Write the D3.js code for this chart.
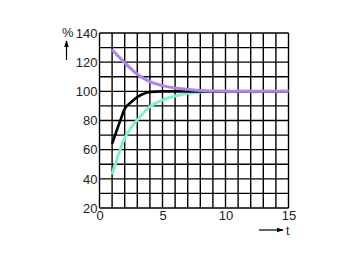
<!DOCTYPE html>
<html>
<head>
<meta charset="utf-8">
<script src="https://cdn.jsdelivr.net/npm/d3@7"></script>
<style>
  body { margin: 0; background: #fff; }
  text { font-family: "Liberation Sans", Arial, sans-serif; }
</style>
</head>
<body>
<div id="chart"></div>
<script>
var w = 360;
var h = 262;

// data
var xTicks = [0, 5, 10, 15];
var yTicks = [20, 40, 60, 80, 100, 120, 140];
var purpleT = [1, 2, 3, 4, 5, 6, 7, 8, 10, 12, 15];
var purpleV = [128.5, 119.6, 111.7, 106.6, 103.9, 102.3, 101.4, 100.6, 100.1, 100, 100];
var blackT = [1, 1.65, 2, 2.5, 3, 3.5, 4, 5, 8, 15];
var blackV = [64, 80, 88, 92.5, 96, 98.3, 99.5, 100, 100, 100];
var cyanT = [1, 1.4, 2, 2.5, 3, 4, 5, 6, 7, 8, 9, 15];
var cyanV = [43, 54, 68, 75, 80.3, 89.5, 94, 96.8, 98.6, 99.5, 100, 100];

var svg = d3.select("#chart").append("svg").attr("width", w).attr("height", h);

var x = d3.scaleLinear().domain([0, 15]).range([99.5, 288.5]);
var y = d3.scaleLinear().domain([20, 140]).range([208, 33]);

// grid
svg.selectAll("line.v").data(d3.range(0, 16)).enter().append("line")
    .attr("x1", function(d){ return x(d); })
    .attr("x2", function(d){ return x(d); })
    .attr("y1", y(20)).attr("y2", y(140))
    .attr("stroke", "#000").attr("stroke-width", 1.4);

svg.selectAll("line.h").data(d3.range(20, 141, 10)).enter().append("line")
    .attr("y1", function(d){ return y(d); })
    .attr("y2", function(d){ return y(d); })
    .attr("x1", x(0)).attr("x2", x(15))
    .attr("stroke", "#000").attr("stroke-width", 1.4);

// axes labels
var xAxis = svg.append("g").attr("transform", "translate(0," + y(20) + ")")
    .call(d3.axisBottom(x).tickValues(xTicks).tickSize(0).tickPadding(3));
var yAxis = svg.append("g").attr("transform", "translate(" + x(0) + ",0)")
    .call(d3.axisLeft(y).tickValues(yTicks).tickSize(0).tickPadding(2));
[xAxis, yAxis].forEach(function(g){
    g.select(".domain").remove();
    g.selectAll("text").attr("font-size", "13px").attr("fill", "#222")
        .attr("font-family", "Liberation Sans, Arial, sans-serif");
});

// curves
var line = d3.line()
    .x(function(d){ return x(d[0]); })
    .y(function(d){ return y(d[1]); })
    .curve(d3.curveMonotoneX);

function series(ts, vs){ return ts.map(function(t, i){ return [t, vs[i]]; }); }

svg.append("path").attr("d", line(series(cyanT, cyanV)))
    .attr("fill", "none").attr("stroke", "#82f0cf").attr("stroke-width", 3);
svg.append("path").attr("d", line(series(blackT, blackV)))
    .attr("fill", "none").attr("stroke", "#000").attr("stroke-width", 2.6);
svg.append("path").attr("d", line(series(purpleT, purpleV)))
    .attr("fill", "none").attr("stroke", "#b583e8").attr("stroke-width", 3);

// unit labels and arrows
svg.append("defs").append("marker").attr("id", "arr")
    .attr("viewBox", "0 0 10 10").attr("refX", 9).attr("refY", 5)
    .attr("markerWidth", 6).attr("markerHeight", 6).attr("orient", "auto")
    .append("path").attr("d", "M0,1.5L10,5L0,8.5Z").attr("fill", "#000");

svg.append("text").text("%").attr("x", 62).attr("y", 37)
    .attr("font-size", "13px").attr("fill", "#222");
svg.append("line").attr("x1", 66.5).attr("x2", 66.5).attr("y1", 60).attr("y2", 41)
    .attr("stroke", "#000").attr("stroke-width", 1.2).attr("marker-end", "url(#arr)");

svg.append("text").text("t").attr("x", 286).attr("y", 235)
    .attr("font-size", "12px").attr("fill", "#222");
svg.append("line").attr("x1", 259).attr("x2", 283).attr("y1", 230).attr("y2", 230)
    .attr("stroke", "#000").attr("stroke-width", 1.2).attr("marker-end", "url(#arr)");
</script>
</body>
</html>
